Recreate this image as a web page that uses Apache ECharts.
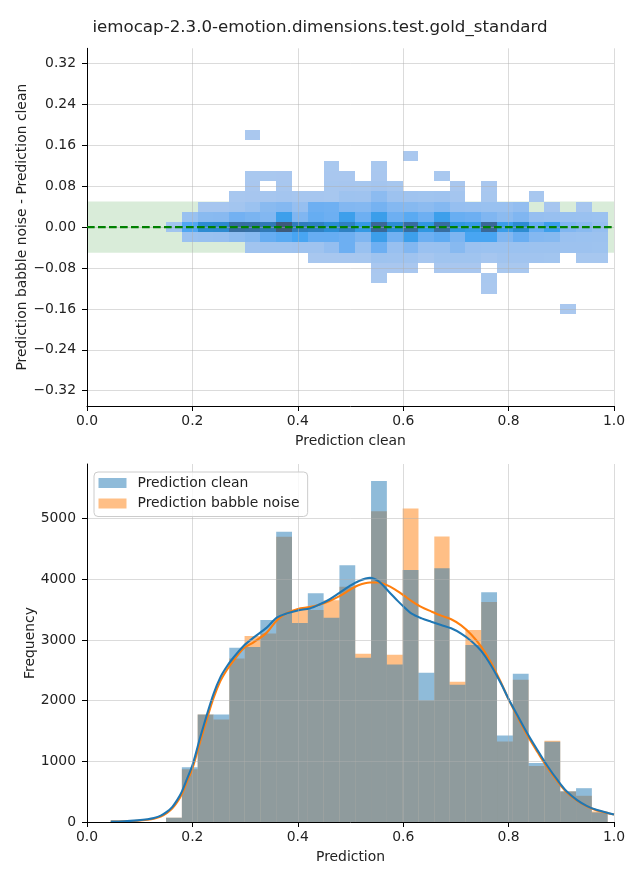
<!DOCTYPE html>
<html><head><meta charset="utf-8">
<script src="https://cdn.jsdelivr.net/npm/echarts@6/dist/echarts.min.js"></script>
<style>html,body{margin:0;padding:0;background:#fff}#c{width:640px;height:880px}</style>
</head><body><div id="c"></div>
<script>
// ---------- data ----------
const titleText = 'iemocap-2.3.0-emotion.dimensions.test.gold_standard';
// shared bin edges of "Prediction clean" / prediction histograms
const binEdges = [0.150,0.180,0.210,0.240,0.270,0.299,0.329,0.359,0.389,0.419,0.449,0.479,0.509,0.539,0.569,0.599,0.629,0.659,0.688,0.718,0.748,0.778,0.808,0.838,0.868,0.898,0.928,0.958,0.988];
// bin edges of the difference (babble - clean), top to bottom
const diffEdges = [0.19,0.17,0.15,0.13,0.11,0.09,0.07,0.05,0.03,0.01,-0.01,-0.03,-0.05,-0.07,-0.09,-0.11,-0.13,-0.15,-0.17];
// 2D histogram counts: one row per difference bin (top to bottom), one column per x bin
const heatCounts = [
  [0,0,0,0,0,5,0,0,0,0,0,0,0,0,0,0,0,0,0,0,0,0,0,0,0,0,0,0],
  [0,0,0,0,0,0,0,0,0,0,0,0,0,0,0,0,0,0,0,0,0,0,0,0,0,0,0,0],
  [0,0,0,0,0,0,0,0,0,0,0,0,0,0,0,5,0,0,0,0,0,0,0,0,0,0,0,0],
  [0,0,0,0,0,0,0,0,0,0,6,0,0,6,0,0,0,0,0,0,0,0,0,0,0,0,0,0],
  [0,0,0,0,0,10,10,12,0,0,15,12,0,15,0,0,0,8,0,0,0,0,0,0,0,0,0,0],
  [0,0,0,0,0,15,0,20,0,0,30,35,30,60,30,0,0,0,15,0,15,0,0,0,0,0,0,0],
  [0,0,0,0,20,35,40,60,40,45,30,120,110,300,130,110,100,110,60,0,30,0,0,20,0,0,0,0],
  [0,0,40,45,70,150,330,380,200,600,580,400,380,520,380,360,300,380,200,190,170,170,230,0,40,0,40,0],
  [0,170,330,340,540,470,400,1000,420,650,600,1000,600,1020,600,740,600,1000,640,600,420,300,420,200,180,170,160,150],
  [80,820,1350,1380,1950,1900,1700,2400,1620,1550,1300,1550,1100,2050,1320,1950,1150,1950,1150,1080,2050,1030,1350,650,1000,420,330,200],
  [0,150,170,180,280,360,650,750,880,650,650,600,420,1010,550,1000,600,700,450,880,880,400,620,380,360,160,150,140],
  [0,0,0,0,0,90,100,100,110,110,220,600,170,600,180,400,160,170,350,160,150,150,150,140,140,130,130,120],
  [0,0,0,0,0,0,0,0,0,25,25,25,30,120,110,110,40,100,100,100,40,90,90,90,80,0,30,30],
  [0,0,0,0,0,0,0,0,0,0,0,0,0,15,15,15,0,12,12,12,0,10,10,0,0,0,0,0],
  [0,0,0,0,0,0,0,0,0,0,0,0,0,6,0,0,0,0,0,0,6,0,0,0,0,0,0,0],
  [0,0,0,0,0,0,0,0,0,0,0,0,0,0,0,0,0,0,0,0,4,0,0,0,0,0,0,0],
  [0,0,0,0,0,0,0,0,0,0,0,0,0,0,0,0,0,0,0,0,0,0,0,0,0,0,0,0],
  [0,0,0,0,0,0,0,0,0,0,0,0,0,0,0,0,0,0,0,0,0,0,0,0,0,3,0,0]
];
const countsClean  = [71,902,1770,1770,2869,2885,3328,4780,3278,3770,3366,4229,2705,5617,2595,4150,2459,4180,2262,2918,3787,1426,2442,973,1322,505,557,158];
const countsBabble = [71,869,1770,1688,2694,3065,3104,4700,3491,3491,3655,3874,2770,5120,2754,5165,2000,4705,2311,3164,3623,1328,2344,923,1339,505,432,175];
const kdeX = [0.045,0.07,0.096,0.115,0.127,0.14,0.152,0.162,0.171,0.18,0.19,0.2,0.215,0.228,0.24,0.253,0.265,0.278,0.297,0.316,0.341,0.36,0.379,0.40,0.423,0.441,0.46,0.479,0.498,0.515,0.537,0.553,0.572,0.59,0.603,0.616,0.635,0.653,0.672,0.691,0.71,0.729,0.748,0.767,0.786,0.80,0.817,0.836,0.855,0.874,0.893,0.911,0.930,0.949,0.968,0.987,1.0];
const kdeClean = [8,12,27,45,65,105,170,250,360,500,716,935,1400,1781,2109,2382,2557,2710,2901,3038,3202,3366,3437,3486,3519,3584,3666,3775,3885,3967,4022,3967,3803,3639,3530,3431,3355,3300,3246,3191,3104,2983,2819,2574,2273,2027,1754,1453,1180,918,688,497,361,262,197,153,125];
const kdeBabble = [6,10,22,38,55,90,150,225,325,460,670,880,1330,1710,2040,2320,2500,2660,2860,2960,3120,3320,3440,3510,3540,3580,3640,3720,3820,3900,3945,3945,3890,3800,3720,3640,3540,3470,3400,3340,3240,3090,2890,2620,2290,2020,1730,1420,1150,890,665,480,350,255,190,148,122];
const xTicks = [0,0.2,0.4,0.6,0.8,1.0];
const diffTicks = [-0.32,-0.24,-0.16,-0.08,0,0.08,0.16,0.24,0.32];
const freqTicks = [0,1000,2000,3000,4000,5000];
const bandLimit = 0.05;

// ---------- build ----------
const heatData = [];
heatCounts.forEach((row, r) => row.forEach((cnt, c) => {
  if (cnt > 0) heatData.push([binEdges[c], binEdges[c+1], diffEdges[r+1], diffEdges[r], cnt]);
}));
const histClean = countsClean.map((v, i) => [binEdges[i], binEdges[i+1], v]);
const histBabble = countsBabble.map((v, i) => [binEdges[i], binEdges[i+1], v]);

const FONT = 'DejaVu Sans';
const TXT = '#222';
const FS = 13.9;
const gridLine = {show: true, lineStyle: {color: 'rgba(176,176,176,0.45)', width: 1}};
const axisLineS = {show: true, onZero: false, lineStyle: {color: '#000', width: 1}};
const tickS = (vals) => ({show: true, length: 5, lineStyle: {color: '#000', width: 1}, customValues: vals});

function rectItem(params, api) {
  const p0 = api.coord([api.value(0), api.value(3)]);
  const p1 = api.coord([api.value(1), api.value(2)]);
  const x0 = Math.round(p0[0]), x1 = Math.round(p1[0]);
  const y0 = Math.round(p0[1]), y1 = Math.round(p1[1]);
  return {type: 'rect', shape: {x: x0, y: y0, width: x1 - x0, height: y1 - y0},
          style: {fill: api.visual('color')}};
}
function barItem(color) {
  return function (params, api) {
    const p0 = api.coord([api.value(0), api.value(2)]);
    const p1 = api.coord([api.value(1), 0]);
    return {type: 'rect', shape: {x: p0[0], y: p0[1], width: p1[0] - p0[0], height: p1[1] - p0[1]},
            style: {fill: color}};
  };
}

const chart = echarts.init(document.getElementById('c'), null, {renderer: 'canvas'});
chart.setOption({
  animation: false,
  backgroundColor: '#fff',
  textStyle: {fontFamily: FONT},
  title: {text: titleText, left: 'center', top: 14,
          textStyle: {fontFamily: FONT, fontSize: 16.67, fontWeight: 'normal', color: TXT}},
  grid: [
    {left: 87, top: 48.3, width: 527, height: 357.7, outerBoundsMode: 'none'},
    {left: 87, top: 464, width: 527, height: 358, outerBoundsMode: 'none'}
  ],
  legend: {
    left: 94, top: 472, orient: 'vertical', itemWidth: 28, itemHeight: 10, itemGap: 6.5,
    padding: [4, 8, 6, 4.5], borderColor: '#cccccc', borderWidth: 1, borderRadius: 4,
    backgroundColor: 'rgba(255,255,255,0.8)', icon: 'rect', selectedMode: false,
    textStyle: {fontFamily: FONT, fontSize: FS, color: TXT, lineHeight: 14, padding: [0, 0, 0, 6]},
    data: [
      {name: 'Prediction clean', itemStyle: {color: 'rgba(31,119,180,0.5)'}},
      {name: 'Prediction babble noise', itemStyle: {color: 'rgba(255,127,14,0.5)'}}
    ]
  },
  visualMap: {
    type: 'continuous', show: false, seriesIndex: 0, dimension: 4, min: 0, max: 2400,
    inRange: {color: ['#aac8ef','#8cbbf0','#6dafF2','#45a4f2','#2c94dd','#2d83c7','#3274ad','#3b6693','#3e5a7a']}
  },
  xAxis: [
    {gridIndex: 0, type: 'value', min: 0, max: 1, z: 3,
     name: 'Prediction clean', nameLocation: 'middle', nameGap: 28, nameMoveOverlap: false,
     nameTextStyle: {fontFamily: FONT, fontSize: FS, color: TXT},
     axisLine: axisLineS, axisTick: tickS(xTicks), splitLine: gridLine,
     axisLabel: {customValues: xTicks, margin: 8, fontFamily: FONT, fontSize: FS, color: TXT,
                 formatter: v => v.toFixed(1)}},
    {gridIndex: 1, type: 'value', min: 0, max: 1, z: 3,
     name: 'Prediction', nameLocation: 'middle', nameGap: 28, nameMoveOverlap: false,
     nameTextStyle: {fontFamily: FONT, fontSize: FS, color: TXT},
     axisLine: axisLineS, axisTick: tickS(xTicks), splitLine: gridLine,
     axisLabel: {customValues: xTicks, margin: 8, fontFamily: FONT, fontSize: FS, color: TXT,
                 formatter: v => v.toFixed(1)}}
  ],
  yAxis: [
    {gridIndex: 0, type: 'value', min: -0.35, max: 0.35, z: 3,
     name: 'Prediction babble noise - Prediction clean', nameLocation: 'middle', nameGap: 58, nameRotate: 90,
     nameMoveOverlap: false,
     nameTextStyle: {fontFamily: FONT, fontSize: FS, color: TXT},
     axisLine: axisLineS, axisTick: tickS(diffTicks), splitLine: gridLine,
     axisLabel: {customValues: diffTicks, margin: 11, fontFamily: FONT, fontSize: FS, color: TXT,
                 formatter: v => (v < -1e-9 ? '\u2212' : '') + Math.abs(v).toFixed(2)}},
    {gridIndex: 1, type: 'value', min: 0, max: 5898, z: 3,
     name: 'Frequency', nameLocation: 'middle', nameGap: 50, nameRotate: 90,
     nameMoveOverlap: false,
     nameTextStyle: {fontFamily: FONT, fontSize: FS, color: TXT},
     axisLine: axisLineS, axisTick: tickS(freqTicks), splitLine: gridLine,
     axisLabel: {customValues: freqTicks, margin: 11, fontFamily: FONT, fontSize: FS, color: TXT,
                 formatter: v => String(Math.round(v))}}
  ],
  series: [
    {type: 'custom', name: 'heat', xAxisIndex: 0, yAxisIndex: 0, z: 2, clip: true,
     dimensions: ['x0','x1','y0','y1','count'], encode: {x: [0, 1], y: [2, 3]},
     renderItem: rectItem, data: heatData, silent: true},
    {type: 'line', name: 'zero', xAxisIndex: 0, yAxisIndex: 0, z: 5, symbol: 'none', silent: true,
     data: [[0, 0], [1, 0]],
     lineStyle: {color: '#008000', width: 2.08, type: [7.7, 3.3]},
     markArea: {silent: true, itemStyle: {color: 'rgba(0,128,0,0.15)'},
                data: [[{coord: [0, -bandLimit]}, {coord: [1, bandLimit]}]]}},
    {type: 'custom', name: 'Prediction babble noise', xAxisIndex: 1, yAxisIndex: 1, z: 2,
     itemStyle: {color: 'rgba(255,127,14,0.5)'},
     encode: {x: [0, 1], y: 2}, renderItem: barItem('rgba(255,127,14,0.5)'), data: histBabble, silent: true},
    {type: 'custom', name: 'Prediction clean', xAxisIndex: 1, yAxisIndex: 1, z: 2,
     itemStyle: {color: 'rgba(31,119,180,0.5)'},
     encode: {x: [0, 1], y: 2}, renderItem: barItem('rgba(31,119,180,0.5)'), data: histClean, silent: true},
    {type: 'line', name: 'kde babble', xAxisIndex: 1, yAxisIndex: 1, z: 2.5, symbol: 'none', smooth: 0.3,
     silent: true, clip: true, lineStyle: {color: '#ff7f0e', width: 2.08},
     data: kdeX.map((x, i) => [x, kdeBabble[i]])},
    {type: 'line', name: 'kde clean', xAxisIndex: 1, yAxisIndex: 1, z: 2.6, symbol: 'none', smooth: 0.3,
     silent: true, clip: true, lineStyle: {color: '#1f77b4', width: 2.08},
     data: kdeX.map((x, i) => [x, kdeClean[i]])}
  ]
});
</script>
</body></html>
